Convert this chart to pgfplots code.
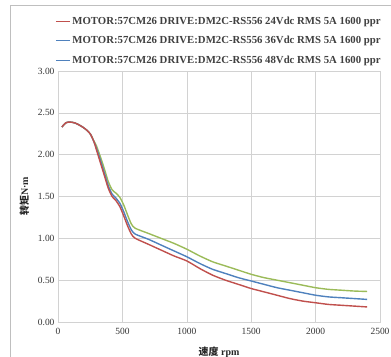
\documentclass[border=0pt]{standalone}
\usepackage{fontspec}
\setmainfont{Liberation Serif}
\newfontfamily\cjk{Noto Sans CJK SC}
\usepackage{pgfplots}
\pgfplotsset{compat=1.18}
\definecolor{cred}{HTML}{C0504D}
\definecolor{cblue}{HTML}{4F81BD}
\definecolor{cgreen}{HTML}{9BBB59}
\begin{document}
\begin{tikzpicture}
\useasboundingbox (-58bp,-35bp) rectangle (333bp,322bp);
\draw[gray!50, line width=0.8bp] (-48bp,-45bp) rectangle (345bp,317bp);
\begin{axis}[
  at={(0,0)}, anchor=south west,
  scale only axis, width=322bp, height=251bp,
  xmin=0, xmax=2500, ymin=0, ymax=3,
  xtick={0,500,...,2500}, ytick={0,0.5,...,3},
  grid=major, major grid style={gray!35, line width=0.6bp},
  axis line style={gray!35, line width=0.6bp},
  tick style={draw=none},
  /pgf/number format/assume math mode=true,
  yticklabel style={/pgf/number format/fixed, /pgf/number format/fixed zerofill, /pgf/number format/precision=2},
  xticklabel style={/pgf/number format/fixed, /pgf/number format/1000 sep={}, /tikz/yshift=-3bp},
  tick label style={font=\fontsize{9.5}{11}\selectfont, text=black!80},
  xlabel={{\cjk\bfseries 速度} \textbf{rpm}},
  ylabel={{\cjk\bfseries 转矩}\textbf{N·m}},
  label style={font=\fontsize{10}{12}\selectfont, text=black!85},
  xlabel style={yshift=-5.5bp},
  ylabel style={yshift=2bp},
  legend style={at={(axis description cs:0,1)}, anchor=south west, yshift=3bp, xshift=-4bp,
    draw=none, fill=none, font=\fontsize{10.8}{12}\selectfont\bfseries, text=black!75,
    row sep=6.5bp, inner sep=1bp},
  legend cell align=left,
  legend image code/.code={\draw[#1, line width=1.2bp] (0,0) -- (14bp,0);},
  every axis plot/.append style={line width=1.4bp, smooth, tension=0.4},
]
\addlegendimage{cred}
\addlegendentry{MOTOR:57CM26 DRIVE:DM2C-RS556 24Vdc RMS 5A 1600 ppr}
\addlegendimage{cblue}
\addlegendentry{MOTOR:57CM26 DRIVE:DM2C-RS556 36Vdc RMS 5A 1600 ppr}
\addlegendimage{cblue}
\addlegendentry{MOTOR:57CM26 DRIVE:DM2C-RS556 48Vdc RMS 5A 1600 ppr}
\addplot[cgreen, forget plot] coordinates {
(30,2.33)(60,2.38)(90,2.39)(130,2.38)(170,2.35)(210,2.31)(250,2.25)(280,2.16)(300,2.10)(330,1.97)(360,1.83)(390,1.68)(420,1.58)(450,1.54)(480,1.49)(510,1.40)(540,1.28)(570,1.17)(600,1.12)(700,1.06)(800,1.00)(900,0.94)(1000,0.87)(1100,0.79)(1200,0.72)(1300,0.67)(1400,0.62)(1500,0.57)(1600,0.53)(1700,0.50)(1800,0.47)(1900,0.44)(2000,0.41)(2100,0.39)(2200,0.38)(2300,0.37)(2400,0.365)};
\addplot[cblue, forget plot] coordinates {
(30,2.33)(60,2.38)(90,2.39)(130,2.38)(170,2.35)(210,2.31)(250,2.25)(280,2.15)(300,2.07)(330,1.93)(360,1.78)(390,1.63)(420,1.53)(450,1.48)(480,1.42)(510,1.32)(540,1.20)(570,1.10)(600,1.05)(700,0.99)(800,0.92)(900,0.85)(1000,0.78)(1100,0.70)(1200,0.63)(1300,0.58)(1400,0.53)(1500,0.49)(1600,0.45)(1700,0.41)(1800,0.38)(1900,0.35)(2000,0.32)(2100,0.30)(2200,0.29)(2300,0.28)(2400,0.27)};
\addplot[cred, forget plot] coordinates {
(30,2.33)(60,2.38)(90,2.39)(130,2.38)(170,2.35)(210,2.31)(250,2.25)(280,2.15)(300,2.05)(330,1.90)(360,1.75)(390,1.60)(420,1.50)(450,1.45)(480,1.38)(510,1.27)(540,1.15)(570,1.05)(600,1.00)(700,0.93)(800,0.86)(900,0.79)(1000,0.73)(1100,0.64)(1200,0.56)(1300,0.50)(1400,0.45)(1500,0.40)(1600,0.36)(1700,0.32)(1800,0.28)(1900,0.25)(2000,0.23)(2100,0.21)(2200,0.20)(2300,0.19)(2400,0.18)};
\end{axis}
\end{tikzpicture}
\end{document}
